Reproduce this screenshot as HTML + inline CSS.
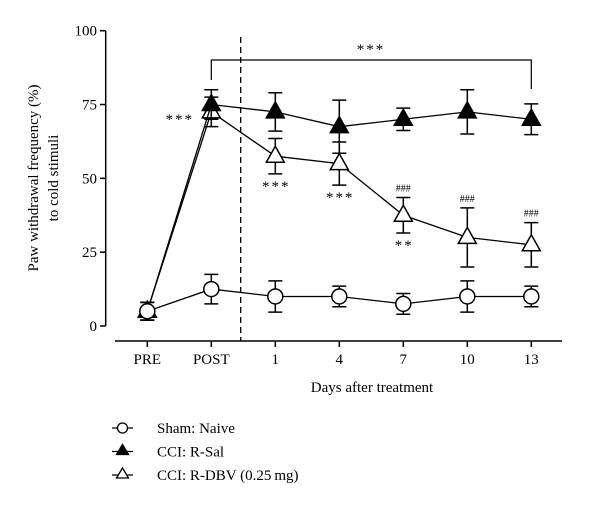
<!DOCTYPE html>
<html><head><meta charset="utf-8"><style>
html,body{margin:0;padding:0;background:#fff;}
svg{display:block;font-family:"Liberation Serif",serif;}
</style></head><body>
<svg id="chart" width="600" height="506" viewBox="0 0 600 506">
<g id="axes"></g>
<g id="marks"></g>
<g id="legend"></g>
</svg>
<script>
const categories = ["PRE","POST","1","4","7","10","13"];
const shamValues = [5,12.5,10,10,7.5,10,10];
const shamErr = [3,5,5.3,3.5,3.5,5.3,3.5];
const salValues = [5,75,72.5,67.5,70,72.5,70];
const salErr = [3,5,6.5,9,3.8,7.5,5.2];
const dbvValues = [5,72.5,57.5,55,37.5,30,27.5];
const dbvErr = [3,5,6,7.3,6,10,7.5];
const yTicks = [0,25,50,75,100];
const dbvStars = ["","","***","***","**","",""];
const dbvHash = ["","","","","###","###","###"];

const NS="http://www.w3.org/2000/svg";
const xS=i=>147.3+i*64;
const yS=v=>326-v*2.953;
function mk(tag,attrs,parent,txt){const e=document.createElementNS(NS,tag);for(const k in attrs)e.setAttribute(k,attrs[k]);if(txt!==undefined)e.textContent=txt;parent.appendChild(e);return e;}
const axes=document.getElementById('axes'), marks=document.getElementById('marks'), legend=document.getElementById('legend');
const st={stroke:"#000","stroke-width":1.5,fill:"none"};

let yl=mk('line',{x1:105.7,y1:yS(100),x2:105.7,y2:yS(0),...st},axes);

yTicks.forEach(t=>{
  const l=mk('line',{x1:100,x2:105.7,y1:yS(t),y2:yS(t),...st},axes);
  
  const tx=mk('text',{x:97,y:yS(t)+5,"text-anchor":"end","font-size":15},axes,String(t));
  
});
let xl=mk('line',{x1:115,y1:341,x2:562,y2:341,...st},axes);

categories.forEach((c,i)=>{
  const l=mk('line',{x1:xS(i),x2:xS(i),y1:341,y2:347,...st},axes);
  
  const tx=mk('text',{x:xS(i),y:364,"text-anchor":"middle","font-size":15},axes,c);
  
});
let xt=mk('text',{x:372,y:392,"text-anchor":"middle","font-size":15},axes,"Days after treatment");

let yt=mk('text',{transform:"translate(0,178) rotate(-90)","text-anchor":"middle","font-size":15},axes);

mk('tspan',{x:0,y:38},yt,"Paw withdrawal frequency (%)");
mk('tspan',{x:0,y:58},yt,"to cold stimuli");
let dl=mk('line',{x1:240.7,x2:240.7,y1:37,y2:341,stroke:"#000","stroke-width":1.3,"stroke-dasharray":"6,4"},axes);

let br=mk('path',{d:`M${xS(1)},80 V60 H${xS(6)} V89`,...st,"stroke-width":1.2},axes);

let bs=mk('text',{x:371,y:54,"text-anchor":"middle","font-size":15,"letter-spacing":2},axes,"***");

let ps=mk('text',{x:194,y:124,"text-anchor":"end","font-size":15,"letter-spacing":2},axes,"***");


function tri(x,y,fill,parent){return mk('path',{d:`M${x},${y-10} L${x+9},${y+6} L${x-9},${y+6} Z`,fill:fill,stroke:"#000","stroke-width":1.5},parent);}
function series(vals,errs,name,marker){
  const g=mk('g',{},marks);
  
  const ln=mk('polyline',{points:vals.map((v,i)=>xS(i)+","+yS(v)).join(" "),...st,"stroke-width":1.3},g);
  
  vals.forEach((v,i)=>{
    const x=xS(i),t=yS(v+errs[i]),b=yS(v-errs[i]);
    const e=mk('path',{d:`M${x},${t} V${b} M${x-7},${t} H${x+7} M${x-7},${b} H${x+7}`,...st},g);
    
  });
  vals.forEach((v,i)=>{
    let m;
    if(marker==='circle') m=mk('circle',{cx:xS(i),cy:yS(v),r:7.5,fill:"#fff",stroke:"#000","stroke-width":1.5},g);
    else m=tri(xS(i),yS(v),marker==='filled'?"#000":"#fff",g);
    
  });
}
series(dbvValues,dbvErr,'dbv','open');
series(salValues,salErr,'sal','filled');
series(shamValues,shamErr,'sham','circle');
dbvStars.forEach((s,i)=>{ if(!s)return;
  const t=mk('text',{x:xS(i)+1,y:yS(dbvValues[i]-dbvErr[i])+17,"text-anchor":"middle","font-size":15,"letter-spacing":2},marks,s);
  });
dbvHash.forEach((s,i)=>{ if(!s)return;
  const t=mk('text',{x:xS(i),y:yS(dbvValues[i]+dbvErr[i])-6,"text-anchor":"middle","font-size":10},marks,s);
  });

const legendLabels=["Sham: Naive","CCI: R-Sal","CCI: R-DBV (0.25\u2009mg)"];
const legendMarkers=["circle","filled","open"];
legendLabels.forEach((lab,k)=>{
  const y=428+k*23.5;
  const g=mk('g',{},legend);
  
  mk('line',{x1:112,x2:133,y1:y,y2:y,...st,"stroke-width":1.3},g);
  if(legendMarkers[k]==='circle') mk('circle',{cx:122.5,cy:y,r:5,fill:"#fff",stroke:"#000","stroke-width":1.3},g);
  else mk('path',{d:`M122.5,${y-7} L128.5,${y+3} L116.5,${y+3} Z`,fill:legendMarkers[k]==='filled'?"#000":"#fff",stroke:"#000","stroke-width":1.3},g);
  mk('text',{x:157,y:y+5,"font-size":15},g,lab);
});
</script>
</body></html>
